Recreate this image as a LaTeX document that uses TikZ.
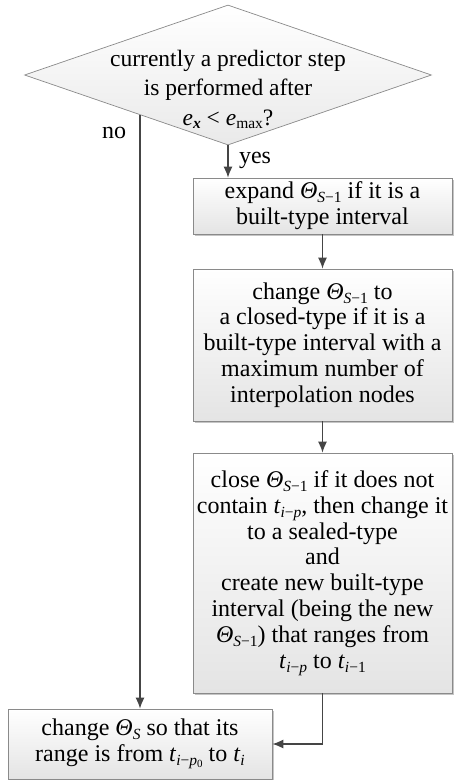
\documentclass[tikz,border=0pt]{standalone}
\usepackage{fontspec}
\setmainfont{Liberation Serif}
\usetikzlibrary{shapes.geometric,arrows.meta,shadows}
\definecolor{boxline}{HTML}{8A8A8A}
\definecolor{boxfill}{HTML}{E4E4E4}
\definecolor{arrowcol}{HTML}{454545}
\newcommand{\lw}[1]{\raisebox{-0.35ex}{\fontsize{15.5pt}{15.5pt}\selectfont #1}}
\newcommand{\llw}[1]{\raisebox{-0.3ex}{\fontsize{11pt}{11pt}\selectfont #1}}
\newcommand{\Th}[1]{\textit{Θ}\lw{\textit{S}#1}}
\begin{document}
\begin{tikzpicture}[x=1pt,y=1pt,
  box/.style={rectangle, draw=boxline, line width=0.7pt, top color=white, bottom color=boxfill,
    drop shadow={shadow xshift=2pt, shadow yshift=-2pt, fill=black!45, opacity=0.5},
    align=center, inner sep=0pt, font=\fontsize{24pt}{25.8pt}\selectfont},
  dec/.style={diamond, draw=boxline, line width=0.7pt, top color=white, bottom color=boxfill!80,
    inner sep=0pt, minimum width=407pt, minimum height=140pt},
  arr/.style={draw=arrowcol, line width=1.3pt, -{Latex[length=11pt,width=9pt]}},
  lbl/.style={font=\fontsize{24pt}{25pt}\selectfont, inner sep=0pt}]
\useasboundingbox (0,0) rectangle (455,-780);

\node[dec] (d) at (228,-75) {\smash{\makebox[0pt]{\raisebox{-21pt}{\fontsize{23.5pt}{29pt}\selectfont\begin{tabular}{@{}c@{}}currently a predictor step\\ is performed after\\[1pt] \textit{e}\lw{\textbf{\textit{x}}} < \textit{e}\lw{max}?\end{tabular}}}}};

\node[box, minimum width=259pt, minimum height=56pt] (b1) at (322.5,-206)
  {expand \Th{−1} if it is a\\ built-type interval};
\node[box, minimum width=259pt, minimum height=152pt] (b2) at (322.5,-345)
  {change \Th{−1} to\\ a closed-type if it is a\\ built-type interval with a\\ maximum number of\\ interpolation nodes};
\node[box, minimum width=259pt, minimum height=240pt] (b3) at (322.5,-573)
  {close \Th{−1} if it does not\\ contain \textit{t}\lw{\textit{i}−\textit{p}}, then change it\\ to a sealed-type\\ and\\ create new built-type\\ interval (being the new\\ \Th{−1}) that ranges from\\ \textit{t}\lw{\textit{i}−\textit{p}} to \textit{t}\lw{\textit{i}−1}};
\node[box, minimum width=264pt, minimum height=70pt] (b4) at (140,-744)
  {change \Th{} so that its\\ range is from \textit{t}\lw{\textit{i}−\textit{p}\llw{0}} to \textit{t}\lw{\textit{i}}};

\coordinate (nostart) at (140,-115);
\draw[arr] (nostart) -- (b4.north);
\draw[arr] (d.south) -- (d.south |- b1.north);
\draw[arr] (b1.south) -- (b2.north);
\draw[arr] (b2.south) -- (b3.north);
\draw[arr] (b3.south) |- (b4.east);

\node[lbl] (no) at (114,-133) {no};
\node[lbl] (yes) at (255,-160) {yes};
\end{tikzpicture}
\end{document}
